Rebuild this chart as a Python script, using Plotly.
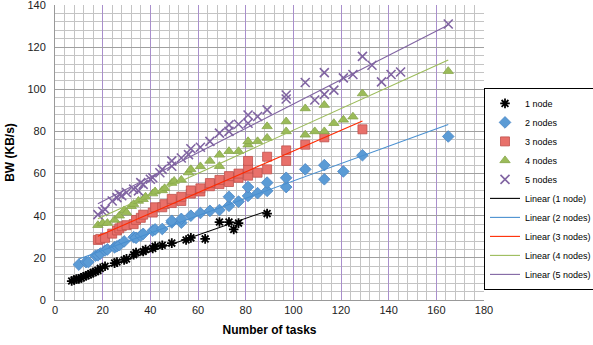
import numpy as np
import plotly.graph_objects as go

# ---- data ----
n1_x = [7, 8, 9, 10, 11, 12, 13, 14, 15, 16, 17, 18, 19, 21, 25, 26, 29, 30, 33, 34, 37, 38, 41, 42, 45, 49, 55, 57, 63, 69, 73, 75, 77, 89]
n1_y = [9, 9.5, 10, 10, 10.5, 11, 11.5, 12, 12.5, 13, 13.5, 14, 15, 16, 17.5, 18, 19, 19.5, 21.5, 22.5, 23, 24, 24.5, 25.5, 26, 27, 28.5, 29.5, 29, 37, 37, 33.5, 36.5, 41]

n2_x = [10, 13, 14, 17, 18, 19, 21, 22, 25, 26, 27, 29, 33, 34, 36, 37, 41, 42, 45, 49, 49, 53, 53, 57, 61, 65, 69, 73, 73, 77, 81, 81, 85, 89, 89, 97, 97, 105, 113, 113, 121, 129, 165]
n2_y = [16.8, 18, 18, 21, 21.2, 22, 23.5, 24, 25, 25.5, 26, 27.8, 29.8, 29.5, 30.5, 31.4, 32.9, 33.5, 33.7, 36.8, 37.6, 36.7, 38.5, 40, 41.3, 42.3, 42.7, 44.7, 49, 46.7, 49.4, 53.6, 50.7, 51.8, 55.7, 53.6, 58, 62, 57.3, 64, 61, 68.7, 77.6]

n3_x = [18, 19, 21, 24, 26, 27, 28, 30, 33, 34, 36, 37, 41, 42, 45, 46, 49, 49, 53, 53, 57, 57, 61, 61, 65, 65, 69, 69, 73, 73, 77, 77, 81, 81, 81, 85, 89, 89, 97, 97, 105, 113, 129]
n3_y = [28.5, 29, 29.5, 31.5, 33, 34, 35, 35.5, 36, 38, 39, 40.5, 41.5, 44, 44, 45.5, 46, 48, 47, 49, 50.5, 52, 51.5, 53, 54, 55.5, 55, 57, 56, 58.8, 58, 60, 59, 62.4, 66, 60.4, 62, 68, 66, 71, 73.7, 77.2, 81]

n4_x = [18, 20, 22, 25, 27, 29, 30, 32, 33, 35, 37, 38, 41, 42, 45, 46, 49, 50, 53, 56, 57, 61, 65, 69, 69, 73, 77, 81, 81, 85, 89, 89, 97, 97, 105, 105, 109, 113, 113, 117, 121, 125, 129, 165]
n4_y = [35.5, 36.5, 36.5, 38, 40, 42.5, 41.5, 44.5, 45.5, 47, 47.8, 49, 50.5, 51.5, 52, 53, 55.5, 56.5, 57, 60.5, 62, 63.4, 66, 68.9, 63.5, 70.6, 70.6, 73.7, 75.3, 75.3, 76.9, 82.4, 80, 84.7, 78.4, 90.9, 80, 92.5, 80, 83.9, 85.5, 87, 98, 108.6]

n5_x = [18, 20, 21, 24, 26, 27, 28, 30, 33, 35, 36, 37, 40, 41, 44, 45, 49, 49, 53, 56, 57, 61, 65, 69, 73, 73, 77, 81, 81, 85, 89, 97, 97, 105, 109, 113, 113, 117, 121, 125, 129, 133, 137, 141, 145, 165]
n5_y = [40.5, 42, 43, 47, 48.6, 50.2, 49.5, 51, 52.6, 51.8, 55.7, 54.9, 57.3, 58, 60.4, 62, 63.5, 66, 67.4, 69, 71.8, 72.5, 75.3, 79.2, 80, 83.1, 83.4, 83.9, 87.8, 87.1, 90.2, 97.3, 95.4, 103.2, 94.9, 107.9, 97.6, 99.6, 105.4, 107, 115.6, 111.4, 103.5, 107, 108.2, 131]

series_names = ["1 node", "2 nodes", "3 nodes", "4 nodes", "5 nodes"]
trend_names = ["Linear (1 node)", "Linear (2 nodes)", "Linear (3 nodes)", "Linear (4 nodes)", "Linear (5 nodes)"]

x_ticks = [0, 20, 40, 60, 80, 100, 120, 140, 160, 180]
y_ticks = [0, 20, 40, 60, 80, 100, 120, 140]

xs = [n1_x, n2_x, n3_x, n4_x, n5_x]
ys = [n1_y, n2_y, n3_y, n4_y, n5_y]

marker_styles = [
    dict(symbol="asterisk-open", size=8, color="#000000", line=dict(color="#000000", width=1.8)),
    dict(symbol="diamond", size=9, color="#5b9bd5", line=dict(color="#4a86c5", width=0.8)),
    dict(symbol="square", size=9, color="#e8706a", line=dict(color="#c0504d", width=0.8)),
    dict(symbol="triangle-up", size=9, color="#9bbb59", line=dict(color="#86a64a", width=0.8)),
    dict(symbol="x-thin-open", size=9, color="#8064a2", line=dict(color="#8a73ad", width=1.6)),
]
trend_colors = ["#000000", "#4a90d0", "#ff2a00", "#9bbb59", "#8064a2"]

fig = go.Figure()
for name, x, y, m in zip(series_names, xs, ys, marker_styles):
    fig.add_trace(go.Scatter(x=x, y=y, mode="markers", name=name, marker=m))

for name, x, y, c in zip(trend_names, xs, ys, trend_colors):
    slope, icpt = np.polyfit(x, y, 1)
    xl = np.array([min(x), max(x)])
    fig.add_trace(go.Scatter(x=xl, y=slope * xl + icpt, mode="lines", name=name,
                             line=dict(color=c, width=1.1)))

fig.update_layout(
    width=593, height=345,
    margin=dict(l=55, r=109, t=5, b=45, autoexpand=False),
    paper_bgcolor="white", plot_bgcolor="white",
    font=dict(family="Liberation Sans, Arial, sans-serif", size=11, color="#222222"),
    showlegend=True,
    legend=dict(x=1.0, y=0.719, xanchor="left", yanchor="top",
                bordercolor="#000000", borderwidth=1, bgcolor="white",
                font=dict(family="Liberation Sans, Arial, sans-serif",
                          size=9, color="#000000"),
                tracegroupgap=0, itemwidth=30),
)
fig.update_xaxes(
    range=[0, 180], tickvals=x_ticks, ticktext=[str(v) for v in x_ticks],
    showgrid=True, gridcolor="#a98fcc", gridwidth=1,
    minor=dict(dtick=4, tick0=0, showgrid=True, gridcolor="#c4c4c4", gridwidth=1),
    showline=True, linecolor="#999999", linewidth=1, zeroline=False,
    ticks="", ticklen=0, tickfont=dict(size=11, color="#222222"), automargin=False,
    ticklabeloverflow="allow",
    title=dict(text="<b>Number of tasks</b>", font=dict(size=12, color="#000000"), standoff=10),
)
fig.update_yaxes(
    range=[0, 140], tickvals=y_ticks, ticktext=[str(v) for v in y_ticks],
    showgrid=True, gridcolor="#a0a0a0", gridwidth=1,
    minor=dict(dtick=4, tick0=0, showgrid=True, gridcolor="#c4c4c4", gridwidth=1),
    showline=True, linecolor="#999999", linewidth=1, zeroline=False,
    ticks="", ticklen=0, ticklabelstandoff=6, tickfont=dict(size=11, color="#222222"),
    automargin=False, ticklabeloverflow="allow",
    title=dict(text="<b>BW (KB/s)</b>", font=dict(size=12, color="#000000"), standoff=10),
)

fig.write_html("out.html",
               config={"displayModeBar": False},
               post_script="document.body.style.margin='0';document.body.style.padding='0';")
